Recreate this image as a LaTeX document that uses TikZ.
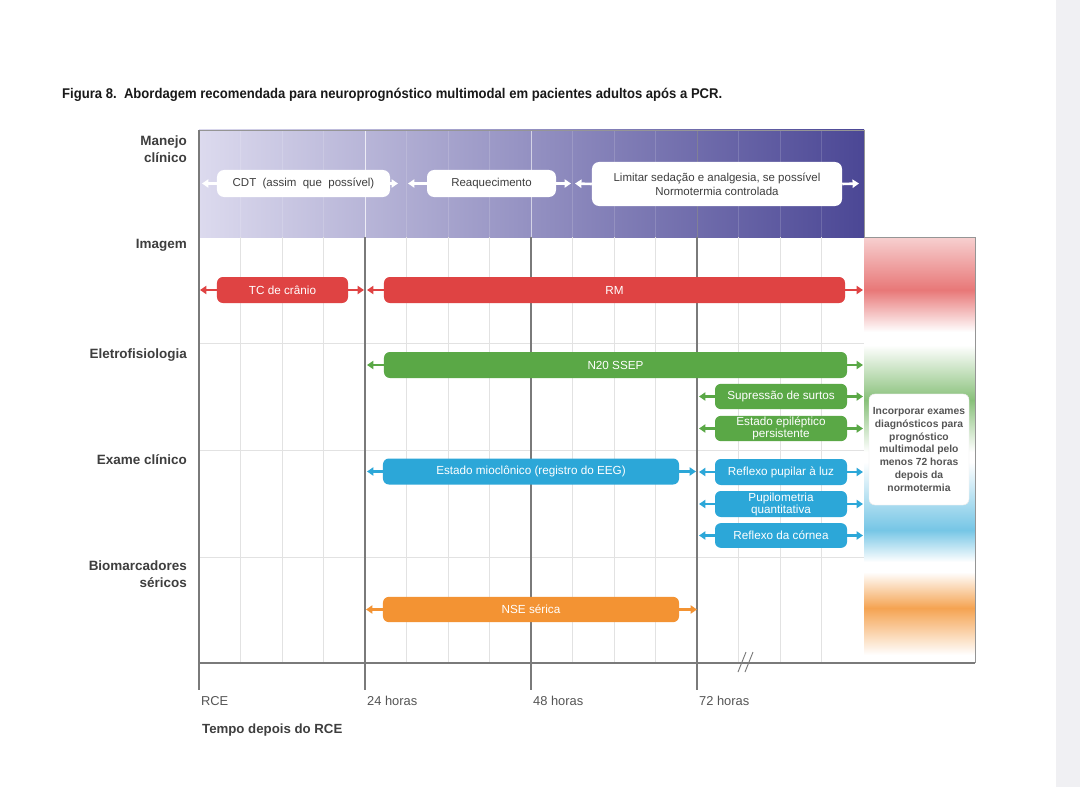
\documentclass[tikz,border=0pt]{standalone}
\usepackage{fontspec}
\setmainfont{Liberation Sans}
\usepackage{graphicx}
\usetikzlibrary{arrows.meta}
\definecolor{redc}{HTML}{DF4343}
\definecolor{greenc}{HTML}{5AA846}
\definecolor{bluec}{HTML}{2CA7D8}
\definecolor{orangec}{HTML}{F39333}
\definecolor{lbl}{HTML}{3E3E3E}
\definecolor{axl}{HTML}{555555}
\definecolor{bandA}{HTML}{DCDAEE}
\definecolor{bandB}{HTML}{4B4795}
\definecolor{gridc}{HTML}{E2E2E2}
\definecolor{axisc}{HTML}{7A7A7A}
\definecolor{stripc}{HTML}{F0F0F3}
\begin{document}
\begin{tikzpicture}[x=0.03cm,y=-0.03cm,
  bar/.style={fill=#1, rounded corners=5pt, text=white, inner sep=0pt, align=center,
    font=\fontsize{10}{10.2}\selectfont},
  wbox/.style={fill=white, rounded corners=6pt, text=lbl, inner sep=0pt, align=center,
    font=\fontsize{9.8}{12}\selectfont},
  arr/.style={draw=#1, line width=2.2pt, -{Triangle[length=5.5pt,width=7pt]}},
  rowlbl/.style={anchor=base east, text=lbl, align=right, font=\fontsize{11.5}{14.5}\bfseries\selectfont},
  axlbl/.style={anchor=base west, text=axl, font=\fontsize{11}{13}\selectfont},
  minor/.style={draw=gridc, line width=0.5pt},
  major/.style={draw=axisc, line width=0.9pt}
]
\useasboundingbox (0,0) rectangle (1080,787);
\fill[white] (0,0) rectangle (1080,787);
\fill[stripc] (1056,0) rectangle (1080,787);

% title
\node[anchor=base west, inner sep=0pt, text=black!90] (title) at (62,99)
  {\resizebox{19.8cm}{\height}{\fontsize{12}{14}\bfseries\selectfont Figura 8.\ \ Abordagem recomendada para neuroprognóstico multimodal em pacientes adultos após a PCR.}};

% top band
\shade[left color=bandA, right color=bandB] (199,130) rectangle (864,237);
\foreach \x in {240.5,282,323.5,406.5,448,489.5,572.5,614,655.5,738.5,780,821.5}
  \draw[white, opacity=0.15, line width=0.5pt] (\x,130) -- (\x,237);
\draw[white, opacity=0.75, line width=0.8pt] (365,130) -- (365,237);
\draw[white, opacity=0.6, line width=0.8pt] (531,130) -- (531,237);
\draw[black!45, opacity=0.6, line width=0.8pt] (697,130) -- (697,237);
\draw[axisc!80, line width=0.7pt] (199,130) -- (864,130) -- (864,237);

% right column gradient
\fill[white] (864,237) rectangle (975,663);
\shade[top color=redc!25, bottom color=redc!72] (864,237) rectangle (975,290);
\shade[top color=redc!72, bottom color=white] (864,290) rectangle (975,332);
\shade[top color=white, bottom color=greenc!72] (864,345) rectangle (975,400);
\shade[top color=greenc!72, bottom color=white] (864,400) rectangle (975,452);
\shade[top color=white, bottom color=bluec!65] (864,462) rectangle (975,530);
\shade[top color=bluec!65, bottom color=white] (864,530) rectangle (975,562);
\shade[top color=white, bottom color=orangec!85] (864,572) rectangle (975,608);
\shade[top color=orangec!85, bottom color=white] (864,608) rectangle (975,655);
\draw[axisc!80, line width=0.8pt] (864,237) -- (975,237) -- (975,663);

% grid
\foreach \x in {240.5,282,323.5,406.5,448,489.5,572.5,614,655.5,738.5,780,821.5}
  \draw[minor] (\x,237) -- (\x,663);
\foreach \y in {343.5,450.5,557}
  \draw[minor] (199,\y) -- (864,\y);
\foreach \x in {365,531,697}
  \draw[major] (\x,237) -- (\x,690);
\draw[major] (199,130) -- (199,690);
\draw[major] (199,663) -- (975,663);
\draw[axisc, line width=0.8pt] (738,672) -- (746,652);
\draw[axisc, line width=0.8pt] (745,672) -- (753,652);

% row labels
\node[rowlbl] (lman) at (191,162) {Manejo\\clínico};
\node[rowlbl] (limg) at (191,248) {Imagem};
\node[rowlbl] (lele) at (191,358) {Eletrofisiologia};
\node[rowlbl] (lexa) at (191,464) {Exame clínico};
\node[rowlbl] (lbio) at (191,587) {Biomarcadores\\séricos};

% axis labels
\node[axlbl] (a0) at (197,705) {RCE};
\node[axlbl] (a24) at (363,705) {24 horas};
\node[axlbl] (a48) at (529,705) {48 horas};
\node[axlbl] (a72) at (695,705) {72 horas};
\node[anchor=base west, text=lbl, font=\fontsize{11.3}{13}\bfseries\selectfont] (axt) at (198,733) {Tempo depois do RCE};

% band boxes
\node[wbox, minimum width=5.19cm, minimum height=0.81cm] (cdt) at (303.5,183.5) {CDT\ \ (assim\ \ que\ \ possível)};
\node[wbox, minimum width=3.87cm, minimum height=0.81cm] (rea) at (491.5,183.5) {Reaquecimento};
\node[wbox, minimum width=7.5cm, minimum height=1.32cm] (lim) at (717,184) {Limitar sedação e analgesia, se possível\\Normotermia controlada};
\coordinate (cdtL) at (202,183.5); \coordinate (cdtR) at (398,183.5);
\coordinate (reaL) at (408,183.5); \coordinate (reaR) at (571,183.5);
\coordinate (limL) at (575,183.5); \coordinate (limR) at (859,183.5);
\draw[arr=white] (cdt.west) -- (cdtL); \draw[arr=white] (cdt.east) -- (cdtR);
\draw[arr=white] (rea.west) -- (reaL); \draw[arr=white] (rea.east) -- (reaR);
\draw[arr=white] (lim.west) -- (limL); \draw[arr=white] (lim.east) -- (limR);

% imaging
\node[bar=redc, minimum width=3.93cm, minimum height=0.78cm] (tc) at (282.5,290) {TC de crânio};
\node[bar=redc, minimum width=13.83cm, minimum height=0.78cm] (rm) at (614.5,290) {RM};
\coordinate (tcL) at (200,290); \coordinate (tcR) at (364,290);
\coordinate (rmL) at (367,290); \coordinate (rmR) at (863,290);
\draw[arr=redc] (tc.west) -- (tcL); \draw[arr=redc] (tc.east) -- (tcR);
\draw[arr=redc] (rm.west) -- (rmL); \draw[arr=redc] (rm.east) -- (rmR);

% electrophysiology
\node[bar=greenc, minimum width=13.89cm, minimum height=0.78cm] (n20) at (615.5,365) {N20 SSEP};
\node[bar=greenc, minimum width=3.96cm, minimum height=0.76cm] (sup) at (781,396.5) {Supressão de surtos};
\node[bar=greenc, minimum width=3.96cm, minimum height=0.76cm] (epi) at (781,428.5) {Estado epiléptico\\persistente};
\coordinate (n20L) at (367,365); \coordinate (n20R) at (863,365);
\coordinate (supL) at (699,396.5); \coordinate (supR) at (863,396.5);
\coordinate (epiL) at (699,428.5); \coordinate (epiR) at (863,428.5);
\draw[arr=greenc] (n20.west) -- (n20L); \draw[arr=greenc] (n20.east) -- (n20R);
\draw[arr=greenc] (sup.west) -- (supL); \draw[arr=greenc] (sup.east) -- (supR);
\draw[arr=greenc] (epi.west) -- (epiL); \draw[arr=greenc] (epi.east) -- (epiR);

% clinical exam
\node[bar=bluec, minimum width=8.88cm, minimum height=0.78cm] (mio) at (531,471.5) {Estado mioclônico (registro do EEG)};
\node[bar=bluec, minimum width=3.96cm, minimum height=0.78cm] (pup) at (781,472) {Reflexo pupilar à luz};
\node[bar=bluec, minimum width=3.96cm, minimum height=0.78cm] (pum) at (781,504) {Pupilometria\\quantitativa};
\node[bar=bluec, minimum width=3.96cm, minimum height=0.74cm] (cor) at (781,535.5) {Reflexo da córnea};
\coordinate (mioL) at (367,471.5); \coordinate (mioR) at (696,471.5);
\coordinate (pupL) at (699,472); \coordinate (pupR) at (863,472);
\coordinate (pumL) at (699,504); \coordinate (pumR) at (863,504);
\coordinate (corL) at (699,535.5); \coordinate (corR) at (863,535.5);
\draw[arr=bluec] (mio.west) -- (mioL); \draw[arr=bluec] (mio.east) -- (mioR);
\draw[arr=bluec] (pup.west) -- (pupL); \draw[arr=bluec] (pup.east) -- (pupR);
\draw[arr=bluec] (pum.west) -- (pumL); \draw[arr=bluec] (pum.east) -- (pumR);
\draw[arr=bluec] (cor.west) -- (corL); \draw[arr=bluec] (cor.east) -- (corR);

% biomarkers
\node[bar=orangec, minimum width=8.88cm, minimum height=0.76cm] (nse) at (531,609.5) {NSE sérica};
\coordinate (nseL) at (366,609.5); \coordinate (nseR) at (697,609.5);
\draw[arr=orangec] (nse.west) -- (nseL); \draw[arr=orangec] (nse.east) -- (nseR);

% right box
\node[fill=white, draw=black!8, rounded corners=5pt, minimum width=3cm, minimum height=3.33cm, inner sep=0pt,
  align=center, text=axl, font=\fontsize{8.8}{10.9}\bfseries\selectfont] (inc) at (919,449.5)
  {Incorporar exames\\diagnósticos para\\prognóstico\\multimodal pelo\\menos 72 horas\\depois da\\normotermia};
\end{tikzpicture}
\end{document}
